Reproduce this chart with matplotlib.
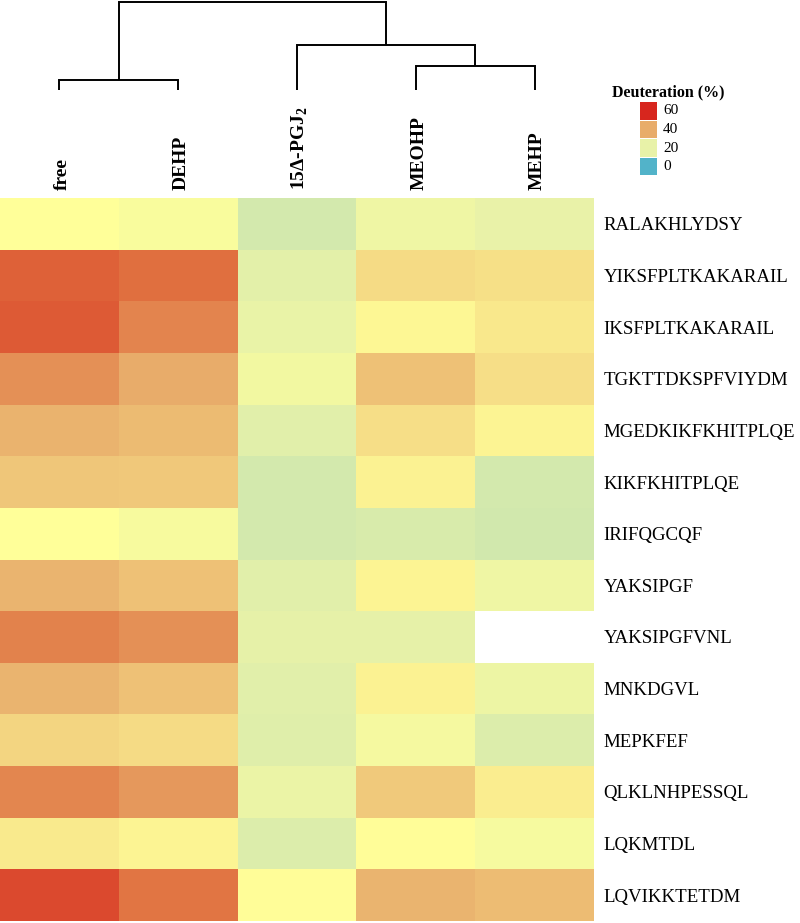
import numpy as np
import matplotlib
matplotlib.use("Agg")
import matplotlib.pyplot as plt
from matplotlib.colors import LinearSegmentedColormap, Normalize
from matplotlib.patches import Rectangle
from matplotlib.transforms import ScaledTranslation

plt.rcParams['font.family'] = ['Liberation Serif', 'DejaVu Serif']
plt.rcParams['mathtext.fontset'] = 'custom'
plt.rcParams['mathtext.rm'] = 'Liberation Serif'
plt.rcParams['mathtext.bf'] = 'Liberation Serif:bold'

# ---------------- data ----------------
conditions = ['free', 'DEHP', r'15Δ-PGJ$_{\mathbf{2}}$', 'MEOHP', 'MEHP']
peptides = ['RALAKHLYDSY', 'YIKSFPLTKAKARAIL', 'IKSFPLTKAKARAIL', 'TGKTTDKSPFVIYDM',
            'MGEDKIKFKHITPLQE', 'KIKFKHITPLQE', 'IRIFQGCQF', 'YAKSIPGF',
            'YAKSIPGFVNL', 'MNKDGVL', 'MEPKFEF', 'QLKLNHPESSQL', 'LQKMTDL',
            'LQVIKKTETDM']

free  = [28.0, 51.9, 52.8, 44.7, 39.1, 36.1, 28.0, 38.9, 47.0, 38.9, 34.2, 46.2, 31.0, 55.3]
dehp  = [26.0, 50.0, 46.5, 40.0, 37.8, 36.0, 25.2, 36.8, 44.7, 36.8, 33.1, 43.3, 29.7, 49.2]
pgj2  = [17.3, 19.3, 20.4, 23.5, 19.1, 17.3, 17.3, 19.1, 19.8, 19.2, 18.8, 20.9, 18.4, 28.2]
meohp = [22.4, 33.2, 29.2, 37.0, 32.8, 29.8, 17.9, 29.7, 19.8, 29.8, 24.5, 35.8, 28.3, 38.9]
mehp  = [20.3, 32.5, 31.2, 32.6, 29.7, 17.3, 17.1, 22.4, np.nan, 22.0, 18.5, 30.7, 24.9, 37.7]

# dendrogram over columns (scipy-style linkage: leaves 0-4, new nodes 5,6,7,8)
merge_a = [0, 3, 2, 5]
merge_b = [1, 4, 6, 7]
merge_h = [10, 24, 45, 88]

legend_ticks = [60, 40, 20, 0]
legend_title = 'Deuteration (%)'

cmap_vals = [0, 20, 28, 40, 50, 60]
cmap_cols = ['#52B3C9', '#E8F2A8', '#FFFF99', '#E8AC6A', '#E0703F', '#D7261E']

# ---------------- figure ----------------
W, H = 800, 923
fig = plt.figure(figsize=(W / 100, H / 100), dpi=100)


def px(x0, y0, x1, y1):
    return [x0 / W, 1 - y1 / H, (x1 - x0) / W, (y1 - y0) / H]


vmin, vmax = cmap_vals[0], cmap_vals[-1]
cmap = LinearSegmentedColormap.from_list(
    'deut', [((v - vmin) / (vmax - vmin), c) for v, c in zip(cmap_vals, cmap_cols)])
cmap.set_bad('white')
norm = Normalize(vmin, vmax)

data = np.ma.masked_invalid(np.array([free, dehp, pgj2, meohp, mehp]).T)

ax = fig.add_axes(px(0, 198, 594, 921))
ax.pcolormesh(np.arange(len(conditions) + 1), np.arange(len(peptides) + 1), data,
              cmap=cmap, norm=norm)
ax.set_xlim(0, len(conditions))
ax.set_ylim(len(peptides), 0)
for s in ax.spines.values():
    s.set_visible(False)
ax.yaxis.tick_right()
ax.set_yticks(np.arange(len(peptides)) + 0.5)
ax.set_yticklabels(peptides, fontsize=13.6)
ax.tick_params(axis='y', length=0, pad=7)
ax.xaxis.tick_top()
ax.set_xticks(np.arange(len(conditions)) + 0.5)
ax.set_xticklabels(conditions, fontsize=14, fontweight='bold', rotation=90)
ax.tick_params(axis='x', length=0, pad=6)
shift = ScaledTranslation(3 / 100, 0, fig.dpi_scale_trans)
for lbl in ax.get_xticklabels():
    lbl.set_transform(lbl.get_transform() + shift)

# dendrogram
dax = fig.add_axes(px(0, 0, 594, 92))
dax.set_xlim(0, len(conditions))
dax.set_ylim(-2, 90)
dax.axis('off')
node_x = {i: i + 0.5 for i in range(len(conditions))}
node_h = {i: 0 for i in range(len(conditions))}
for k, (a, b, h) in enumerate(zip(merge_a, merge_b, merge_h)):
    xa, xb = node_x[a], node_x[b]
    dax.plot([xa, xa, xb, xb], [node_h[a], h, h, node_h[b]], color='black',
             lw=1.4, solid_capstyle='butt', solid_joinstyle='miter', clip_on=False)
    nid = len(conditions) + k
    node_x[nid] = (xa + xb) / 2
    node_h[nid] = h

# legend
fig.text(612 / W, 1 - 92 / H, legend_title, fontsize=11.5, fontweight='bold',
         ha='left', va='center')
for i, v in enumerate(legend_ticks):
    y0 = 102 + i * 18.6
    fig.patches.append(Rectangle((640 / W, 1 - (y0 + 17.5) / H), 17 / W, 17.5 / H,
                                 transform=fig.transFigure, facecolor=cmap(norm(v)),
                                 edgecolor='none'))
    fig.text(663 / W, 1 - (y0 + 9) / H, str(v), fontsize=11, ha='left', va='center')

fig.savefig('out.png', dpi=100)
